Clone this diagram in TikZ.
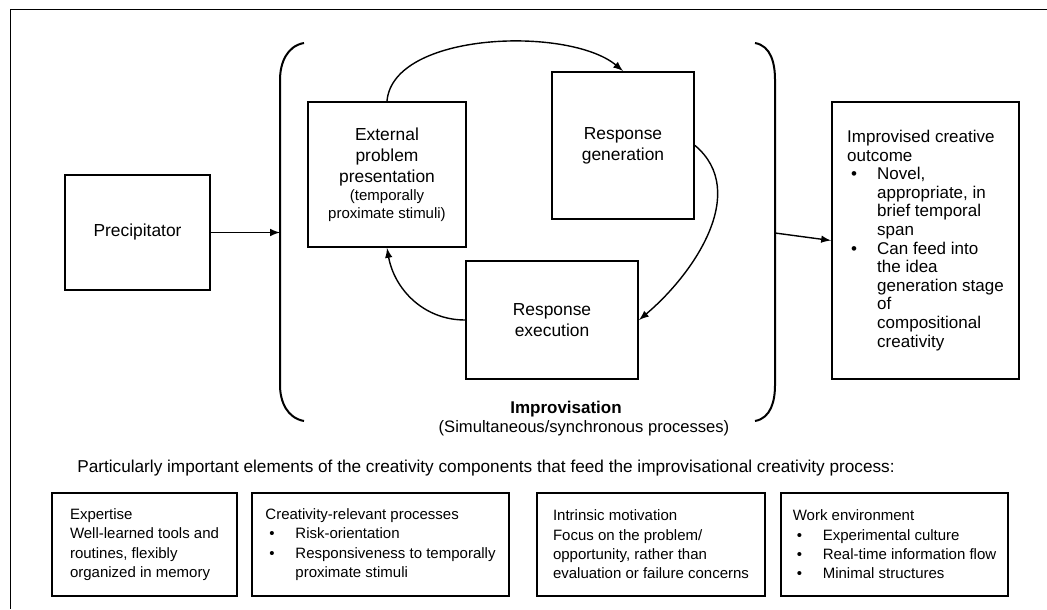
\documentclass[tikz,border=0pt]{standalone}
\usepackage{fontspec}
\setmainfont{Liberation Sans}
\usetikzlibrary{arrows}

\newcommand{\mainsz}{\fontsize{8.7}{10.5}\selectfont}
\newcommand{\smallsz}{\fontsize{7.5}{8.8}\selectfont}
\newcommand{\outsz}{\fontsize{8.5}{9.3}\selectfont}
\newcommand{\compsz}{\fontsize{7.5}{9.7}\selectfont}
\newcommand{\bul}{\makebox[15pt][l]{\hspace{2pt}\textbullet}}
\newcommand{\hang}{\hspace*{15pt}}

\tikzset{
  box/.style={draw, line width=1pt, inner sep=0pt, align=center, font=\mainsz},
  outbox/.style={box, align=left, font=\outsz},
  compbox/.style={box, align=left, font=\compsz, minimum height=51.5pt},
  arr/.style={->, >=latex, line width=0.7pt},
  brace/.style={line width=1pt}
}

\begin{document}
\begin{tikzpicture}[x=0.5pt, y=-0.5pt]
\useasboundingbox (0,0) rectangle (1047,609);

% Frame
\draw[line width=0.5pt] (1047,10) -- (10,10) -- (10,609);

% Left box
\node[box, minimum width=72.5pt, minimum height=57.5pt] (prec) at (137.5,232.5) {Precipitator};

% Improvisation brackets
\draw[brace] (304,43) to [out=190,in=90] (280,80) -- (280,385) to [out=-90,in=170] (304,421);
\draw[brace] (755,43) to [out=-10,in=90] (775,80) -- (775,385) to [out=-90,in=10] (755,421);
\coordinate (lbr) at (280,232.5);
\coordinate (rbr) at (775,233);

% Cycle
\node[box, minimum width=79pt, minimum height=72.5pt] (ext) at (387,174.5)
  {External\\ problem\\ presentation\\[-1.5pt] {\smallsz (temporally}\\[-1.5pt] {\smallsz proximate stimuli)}};
\node[box, minimum width=71pt, minimum height=73.5pt] (gen) at (623,145.5) {Response\\ generation};
\node[box, minimum width=86pt, minimum height=59pt] (exe) at (552,320) {Response\\ execution};

\node[font=\fontsize{8.5}{10}\selectfont\bfseries] (impr) at (566,409) {Improvisation};
\node[font=\fontsize{8.3}{10}\selectfont] (sync) at (584,428) {(Simultaneous/synchronous processes)};

% Outcome
\node[outbox, minimum width=93.5pt, minimum height=138.5pt] (out) at (925.5,240.5)
  {Improvised creative\\ outcome\\
   \bul Novel,\\ \hang appropriate, in\\ \hang brief temporal\\ \hang span\\
   \bul Can feed into\\ \hang the idea\\ \hang generation stage\\ \hang of\\ \hang compositional\\ \hang creativity};

% Arrows
\draw[arr] (prec.east) -- (lbr);
\draw[arr] (rbr) -- (out.west);
\draw[arr] (ext.north) to [out=85,in=140,looseness=0.75] (gen.north);
\draw[arr] (gen.east) to [out=-40,in=40] (exe.east);
\draw[arr] (exe.west) to [out=180,in=-80] (ext.south);

% Components
\node[font=\fontsize{8.6}{10}\selectfont] (head) at (486,468)
  {Particularly important elements of the creativity components that feed the improvisational creativity process:};

\node[compbox, minimum width=92.5pt] (expe) at (144.5,544.5)
  {Expertise\\ Well-learned tools and\\ routines, flexibly\\ organized in memory};
\node[compbox, minimum width=128.5pt] (crel) at (380.5,544.5)
  {Creativity-relevant processes\\ \bul Risk-orientation\\ \bul Responsiveness to temporally\\ \hang proximate stimuli};
\node[compbox, minimum width=114pt] (intr) at (651,544.5)
  {Intrinsic motivation\\ Focus on the problem/\\ opportunity, rather than\\ evaluation or failure concerns};
\node[compbox, minimum width=113.5pt] (work) at (894.5,544.5)
  {Work environment\\ \bul Experimental culture\\ \bul Real-time information flow\\ \bul Minimal structures};

\end{tikzpicture}
\end{document}
